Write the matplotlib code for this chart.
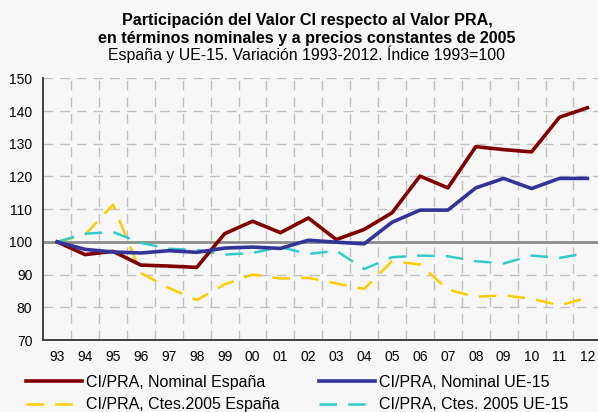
import matplotlib
matplotlib.use("Agg")
import matplotlib.pyplot as plt
import numpy as np

years = ["93", "94", "95", "96", "97", "98", "99", "00", "01", "02",
         "03", "04", "05", "06", "07", "08", "09", "10", "11", "12"]
nominal_es = [100, 96.1, 97.1, 92.9, 92.6, 92.2, 102.5, 106.3, 102.8, 107.3,
              100.7, 103.8, 108.9, 120.1, 116.5, 129.1, 128.2, 127.5, 138.1, 141.0]
nominal_ue = [100, 97.7, 96.9, 96.6, 97.3, 96.8, 98.1, 98.4, 98.0, 100.5,
              99.9, 99.4, 106.0, 109.7, 109.7, 116.5, 119.4, 116.3, 119.4, 119.4]
ctes_es = [100, 102.2, 111.4, 90.5, 85.9, 82.2, 87.0, 90.0, 88.8, 89.0,
           87.3, 85.6, 94.1, 93.1, 85.4, 83.2, 83.7, 82.6, 80.6, 82.9]
ctes_ue = [100, 102.5, 103.0, 99.7, 97.9, 97.5, 96.1, 96.6, 98.4, 96.3,
           97.3, 91.7, 95.3, 95.8, 95.6, 94.1, 93.4, 95.8, 95.1, 96.6]
labels = ["CI/PRA, Nominal España", "CI/PRA, Nominal UE-15",
          "CI/PRA, Ctes.2005 España", "CI/PRA, Ctes. 2005 UE-15"]
yticks = [70, 80, 90, 100, 110, 120, 130, 140, 150]

plt.rcParams['font.family'] = ['Liberation Sans', 'DejaVu Sans']
bg = '#f7f7f7'
fig = plt.figure(figsize=(5.98, 4.12), dpi=100, facecolor=bg)
ax = fig.add_axes([42.7/598, 1-340/412, 1-42.7/598, (340-78.3)/412])
ax.set_facecolor(bg)

x = np.arange(len(years))
# grid
for v in yticks[1:]:
    ax.axhline(v, color='#c0c0c0', lw=1, ls=(0, (7, 5)), zorder=1)
for i in range(len(years)):
    ax.axvline(i + 0.5, color='#c0c0c0', lw=1, ls=(0, (7, 5)), zorder=1)
ax.axhline(100, color='#8c8c8c', lw=2, zorder=2)

l1, = ax.plot(x, nominal_es, color='#800000', lw=2.6, zorder=4, label=labels[0])
l2, = ax.plot(x, nominal_ue, color='#333399', lw=2.6, zorder=4, label=labels[1])
l3, = ax.plot(x, ctes_es, color='#FFCC00', lw=1.8, ls=(0, (7, 4.5)), zorder=3, label=labels[2])
l4, = ax.plot(x, ctes_ue, color='#33CCCC', lw=1.8, ls=(0, (7, 4.5)), zorder=3, label=labels[3])

ax.set_xlim(-0.52, 19.38)
ax.set_ylim(70, 150)
ax.set_yticks(yticks)
ax.set_xticks(x)
ax.set_xticklabels(years)
ax.tick_params(axis='both', length=0, labelsize=10, colors='#000000')
ax.tick_params(axis='x', pad=7.5)
ax.tick_params(axis='y', pad=7.5)
for s in ['top', 'right']:
    ax.spines[s].set_visible(False)
for s in ['left', 'bottom']:
    ax.spines[s].set_color('#404040')
    ax.spines[s].set_linewidth(1.4)

cx = 307/598
fig.text(cx, 1-25/412, "Participación del Valor CI respecto al Valor PRA,",
         ha='center', va='baseline', fontsize=11.6, fontweight='bold')
fig.text(cx, 1-42.5/412, "en términos nominales y a precios constantes de 2005",
         ha='center', va='baseline', fontsize=11.6, fontweight='bold')
fig.text(cx, 1-60/412, "España y UE-15. Variación 1993-2012. Índice 1993=100",
         ha='center', va='baseline', fontsize=11.4)

leg = fig.legend(handles=[l1, l3, l2, l4], loc='upper left',
                 bbox_to_anchor=(26/598, 1-375/412), ncol=2, frameon=False,
                 fontsize=11.5, handlelength=3.5, handletextpad=0.25,
                 columnspacing=2.5, labelspacing=0.46, borderaxespad=0,
                 borderpad=0)

fig.savefig("out.png", dpi=100, facecolor=bg)
